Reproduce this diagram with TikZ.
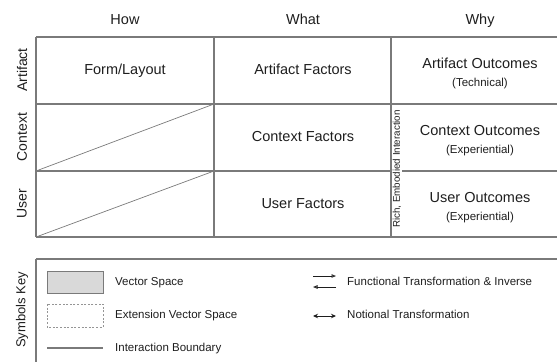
\documentclass[tikz,border=0pt]{standalone}
\usepackage{fontspec}
\setmainfont{Liberation Sans}
\usetikzlibrary{arrows.meta}
\definecolor{gridline}{HTML}{7A7A7A}
\definecolor{inktext}{HTML}{1E1E1E}
\definecolor{vecfill}{HTML}{D9D9D9}
\tikzset{
  gridrule/.style={draw=gridline, line width=1.1bp},
  headtext/.style={text=inktext, font=\fontsize{14.5bp}{16bp}\selectfont, inner sep=0pt, text height=10.5bp, text depth=3bp},
  rowtext/.style={text=inktext, font=\fontsize{14bp}{16bp}\selectfont, rotate=90, inner sep=0pt},
  celltext/.style={text=inktext, font=\fontsize{14.5bp}{16bp}\selectfont, inner sep=0pt, text height=10.5bp, text depth=3bp},
  subtext/.style={text=inktext, font=\fontsize{11.5bp}{13bp}\selectfont, inner sep=0pt, text height=8.5bp, text depth=2.5bp},
  keytext/.style={text=inktext, font=\fontsize{11.5bp}{13bp}\selectfont, inner sep=0pt, anchor=west, text height=8.5bp, text depth=2.5bp},
  sidetext/.style={text=inktext, font=\fontsize{9.8bp}{11bp}\selectfont, rotate=90, inner sep=0pt},
}
\begin{document}
\begin{tikzpicture}[x=1bp, y=-1bp]
\useasboundingbox (0,0) rectangle (557,362);

% column headers
\node[headtext] (hhow)  at (125,21) {How};
\node[headtext] (hwhat) at (303,21) {What};
\node[headtext] (hwhy)  at (480,21) {Why};

% row headers
\node[rowtext] (rart) at (22,70)  {Artifact};
\node[rowtext] (rctx) at (22,137) {Context};
\node[rowtext] (rusr) at (22,204) {User};

% table rules
\draw[gridrule] (36,37) -- (557,37);
\draw[gridrule] (36,104) -- (557,104);
\draw[gridrule] (36,171) -- (391,171);
\draw[gridrule] (402,171) -- (557,171);
\draw[gridrule] (36,237) -- (557,237);
\draw[gridrule] (36,37) -- (36,237);
\draw[gridrule] (214,37) -- (214,237);
\draw[gridrule] (391,37) -- (391,237);

% interaction boundaries in the How column
\draw[draw=gridline, line width=0.7bp] (36,171) -- (214,104);
\draw[draw=gridline, line width=0.7bp] (36,237) -- (214,171);

% cells
\node[celltext] (form) at (125,71) {Form/Layout};
\node[celltext] (afac) at (303,71) {Artifact Factors};
\node[celltext] (cfac) at (303,138) {Context Factors};
\node[celltext] (ufac) at (303,205) {User Factors};

\node[celltext] (aout) at (480,65) {Artifact Outcomes};
\node[subtext]  (aoutsub) at (480,83) {(Technical)};
\node[celltext] (cout) at (480,132) {Context Outcomes};
\node[subtext]  (coutsub) at (480,150) {(Experiential)};
\node[celltext] (uout) at (480,199) {User Outcomes};
\node[subtext]  (uoutsub) at (480,217) {(Experiential)};

\node[sidetext] (rich) at (397,169) {Rich, Embodied Interaction};

% symbols key
\draw[gridrule] (36,259) -- (557,259);
\draw[gridrule] (36,259) -- (36,362);
\node[rowtext, font=\fontsize{13bp}{15bp}\selectfont] (keylabel) at (22,310) {Symbols Key};

\draw[draw=gridline, fill=vecfill, line width=1bp] (47,271) rectangle (103,293);
\node[keytext] (kvec) at (115,282) {Vector Space};

\draw[draw=gridline!80, line width=0.9bp, dash pattern=on 2bp off 1.6bp] (47,304) rectangle (103,327);
\node[keytext] (kext) at (115,315) {Extension Vector Space};

\draw[draw=gridline, line width=1.5bp] (47,348) -- (103,348);
\node[keytext] (kbnd) at (115,348) {Interaction Boundary};

\coordinate (fa) at (313,276);
\coordinate (fb) at (336,276);
\coordinate (ga) at (336,287);
\coordinate (gb) at (313,287);
\draw[draw=inktext, line width=0.8bp, -{Triangle[open, length=4.5bp, width=3.5bp]}] (fa) -- (fb);
\draw[draw=inktext, line width=0.8bp, -{Triangle[open, length=4.5bp, width=3.5bp]}] (ga) -- (gb);
\node[keytext] (kfun) at (347,282) {Functional Transformation \& Inverse};

\coordinate (na) at (313,316);
\coordinate (nb) at (336,316);
\draw[draw=inktext, line width=1bp, {Stealth[length=5bp, width=4.5bp]}-{Stealth[length=5bp, width=4.5bp]}] (na) -- (nb);
\node[keytext] (knot) at (347,315) {Notional Transformation};
\end{tikzpicture}
\end{document}
